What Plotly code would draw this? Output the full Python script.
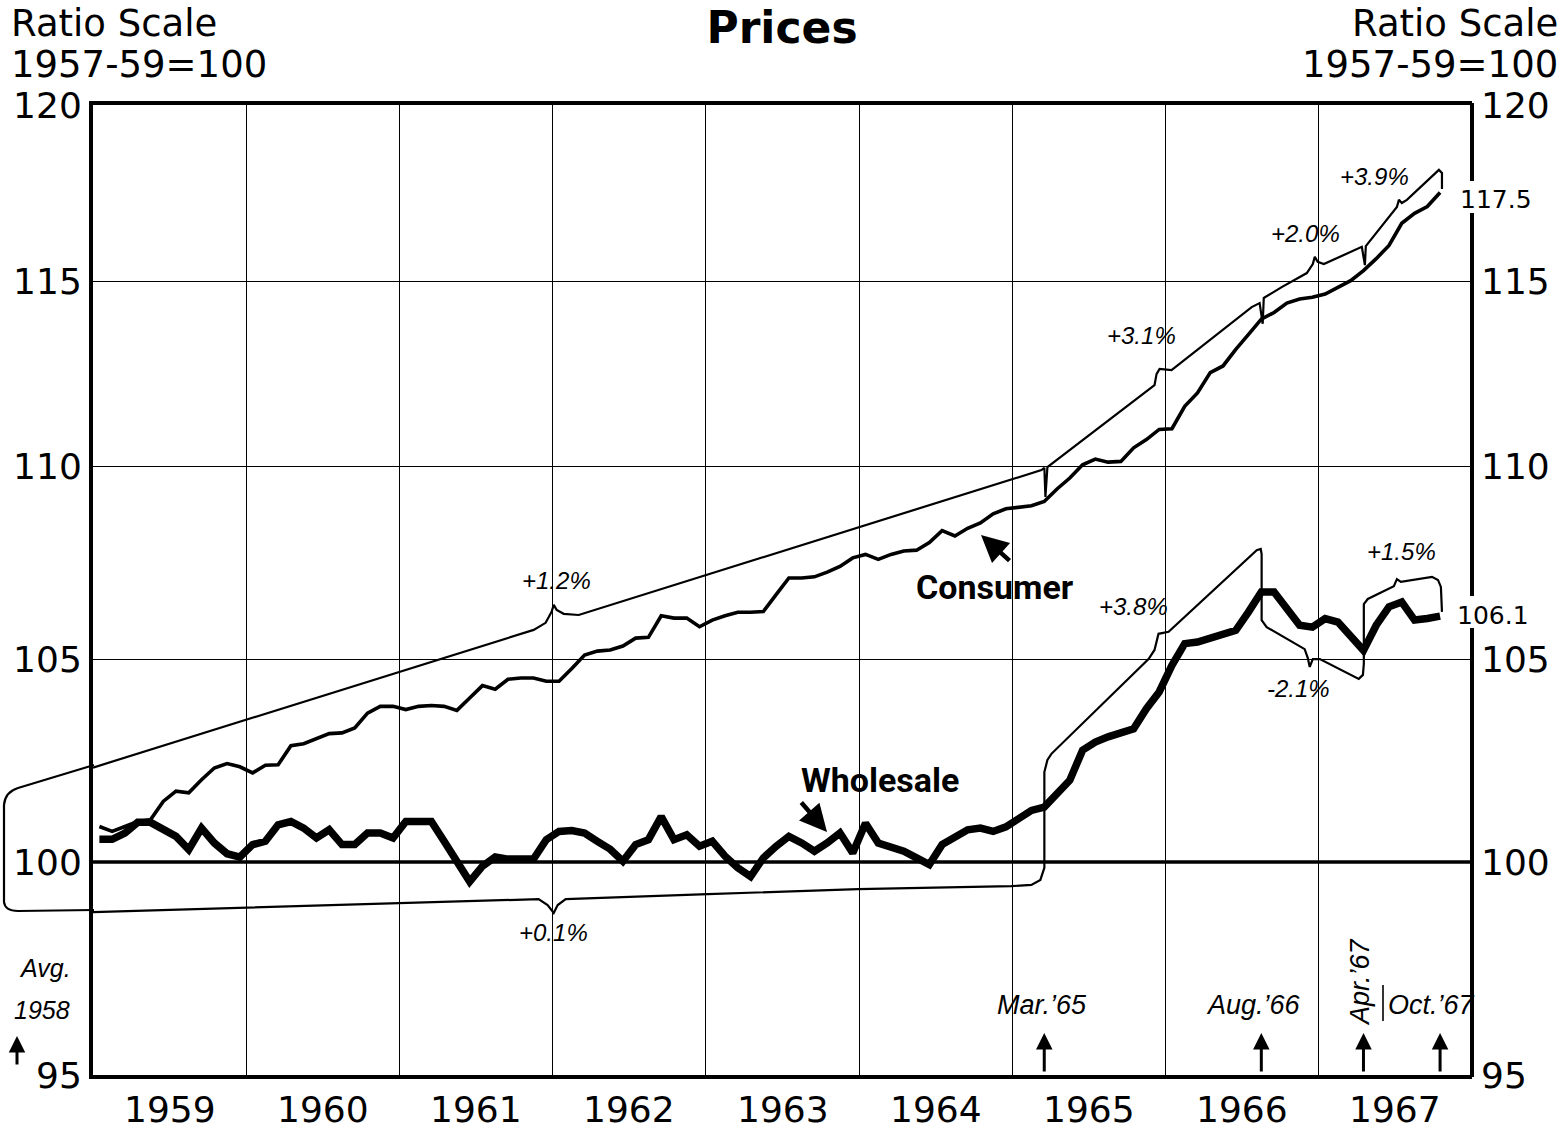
import math
import plotly.graph_objects as go

# ---------------- data ----------------
years = ["1959", "1960", "1961", "1962", "1963", "1964", "1965", "1966", "1967"]
first_year = 1959

# Consumer price index, monthly, 1957-59=100 (Jan 1959 - Oct 1967)
consumer = [
    100.86, 100.74, 100.86, 100.98, 101.02, 101.47, 101.72, 101.68, 102.00, 102.29, 102.40, 102.32,
    102.17, 102.36, 102.37, 102.84, 102.89, 103.01, 103.14, 103.16, 103.28, 103.65, 103.82, 103.82,
    103.74, 103.82, 103.84, 103.82, 103.72, 104.03, 104.34, 104.25, 104.50, 104.53, 104.53, 104.45,
    104.45, 104.77, 105.11, 105.21, 105.24, 105.34, 105.54, 105.56, 106.11, 106.05, 106.05, 105.83,
    106.00, 106.11, 106.20, 106.20, 106.22, 106.65, 107.08, 107.08, 107.11, 107.23, 107.38, 107.60,
    107.69, 107.56, 107.69, 107.78, 107.80, 108.00, 108.31, 108.17, 108.37, 108.51, 108.75, 108.88,
    108.93, 108.96, 109.07, 109.40, 109.69, 110.04, 110.19, 110.11, 110.13, 110.49, 110.71, 110.98,
    111.00, 111.60, 111.96, 112.51, 112.69, 113.14, 113.55, 113.97, 114.15, 114.41, 114.52, 114.57,
    114.66, 114.85, 115.03, 115.31, 115.64, 116.01, 116.63, 116.91, 117.10, 117.50,
]

# Wholesale price index, monthly, 1957-59=100 (Jan 1959 - Oct 1967)
wholesale = [
    100.55, 100.55, 100.70, 100.96, 100.96, 100.78, 100.62, 100.30, 100.82, 100.46, 100.20, 100.12,
    100.42, 100.50, 100.90, 100.98, 100.82, 100.58, 100.78, 100.42, 100.42, 100.70, 100.70, 100.58,
    100.98, 100.98, 100.98, 100.50, 99.98, 99.53, 99.90, 100.12, 100.07, 100.06, 100.07, 100.54,
    100.74, 100.76, 100.70, 100.50, 100.31, 100.02, 100.42, 100.54, 101.10, 100.54, 100.66, 100.38,
    100.50, 100.14, 99.86, 99.65, 100.10, 100.38, 100.62, 100.46, 100.26, 100.46, 100.70, 100.22,
    100.94, 100.46, 100.38, 100.26, 100.10, 99.94, 100.42, 100.62, 100.78, 100.82, 100.74, 100.85,
    101.05, 101.25, 101.33, 101.68, 101.99, 102.73, 102.93, 103.06, 103.14, 103.26, 103.76, 104.18,
    104.85, 105.40, 105.44, 105.53, 105.61, 105.74, 106.21, 106.72, 106.72, 106.29, 105.87, 105.82,
    106.04, 105.95, 105.61, 105.23, 105.87, 106.34, 106.46, 106.00, 106.04, 106.10,
]

baseline = [100, 100]
y_ticks = [95, 100, 105, 110, 115, 120]
end_labels = ["117.5", "106.1"]
consumer_rates = ["+1.2%", "+3.1%", "+2.0%", "+3.9%"]
wholesale_rates = ["+0.1%", "+3.8%", "-2.1%", "+1.5%"]
turning_points = [("Mar.’65", 1965, 3), ("Aug.’66", 1966, 8), ("Apr.’67", 1967, 4), ("Oct.’67", 1967, 10)]

# trend brackets (decimal year, index value) - annotation guides
consumer_bracket_yr = [1959.0, 1961.876, 1961.954, 1961.993, 1962.007, 1962.026, 1962.072, 1962.170,
                       1965.190, 1965.209, 1965.216, 1965.229, 1965.928, 1965.941, 1965.961, 1966.039,
                       1966.562, 1966.614, 1966.634, 1966.641, 1966.758, 1966.922, 1966.961, 1966.974,
                       1966.993, 1967.033, 1967.281, 1967.301, 1967.307, 1967.510, 1967.523, 1967.542,
                       1967.575, 1967.784, 1967.804, 1967.804]
consumer_bracket_val = [102.30, 105.75, 105.93, 106.21, 106.39, 106.26, 106.16, 106.13,
                        109.90, 109.96, 109.19, 109.98, 112.17, 112.47, 112.61, 112.58,
                        114.30, 114.41, 113.84, 114.55, 114.85, 115.24, 115.49, 115.69,
                        115.55, 115.49, 115.97, 115.46, 115.99, 117.09, 117.29, 117.20,
                        117.29, 118.14, 118.05, 117.60]
wholesale_bracket_yr = [1959.0, 1961.007, 1961.908, 1961.967, 1962.007, 1962.033, 1962.085, 1963.013,
                        1963.993, 1964.993, 1965.124, 1965.183, 1965.209, 1965.209, 1965.229, 1965.255,
                        1965.889, 1965.928, 1965.954, 1966.020, 1966.595, 1966.621, 1966.627, 1966.627,
                        1966.660, 1966.908, 1966.928, 1966.941, 1966.961, 1967.007, 1967.261, 1967.288,
                        1967.294, 1967.294, 1967.320, 1967.490, 1967.510, 1967.536, 1967.739, 1967.778,
                        1967.797, 1967.804]
wholesale_bracket_val = [98.80, 99.02, 99.11, 98.97, 98.78, 98.97, 99.11, 99.23,
                         99.35, 99.42, 99.45, 99.57, 99.86, 102.19, 102.49, 102.64,
                         105.01, 105.24, 105.65, 105.70, 107.80, 107.83, 107.70, 106.00,
                         105.82, 105.26, 105.04, 104.81, 105.01, 105.01, 104.51, 104.61,
                         104.89, 106.41, 106.54, 106.87, 107.05, 106.98, 107.11, 107.03,
                         106.85, 106.21]

# ---------------- layout helpers ----------------
W, H = 1564, 1131
L, R, T, B = 93, 1472, 105, 1075


def P(x, y):
    """pixel position -> paper coordinates (for text / decoration placement)"""
    return (x - L) / (R - L), (B - y) / (B - T)


months_x = [first_year + (i + 0.5) / 12 for i in range(len(consumer))]
FONT = "DejaVu Sans"
ITAL = "Liberation Sans, Arial, sans-serif"
COND = "Roboto, Liberation Sans, sans-serif"

fig = go.Figure()
fig.add_trace(go.Scatter(x=consumer_bracket_yr, y=consumer_bracket_val, mode="lines",
                         line=dict(color="black", width=2.2), hoverinfo="skip", showlegend=False))
fig.add_trace(go.Scatter(x=wholesale_bracket_yr, y=wholesale_bracket_val, mode="lines",
                         line=dict(color="black", width=2.2), hoverinfo="skip", showlegend=False))
fig.add_trace(go.Scatter(x=[first_year, first_year + len(years)], y=baseline, mode="lines",
                         line=dict(color="black", width=3.5), yaxis="y2", hoverinfo="skip",
                         showlegend=False))
fig.add_trace(go.Scatter(x=months_x, y=consumer, mode="lines", name="Consumer",
                         line=dict(color="black", width=3.6), showlegend=False))
fig.add_trace(go.Scatter(x=months_x, y=wholesale, mode="lines", name="Wholesale",
                         line=dict(color="black", width=7.5), showlegend=False))

yrange = [math.log10(y_ticks[0]), math.log10(y_ticks[-1])]

annotations = []


def text(t, x, y, size, family=FONT, xanchor="center", italic=False, bold=False, angle=0):
    xp, yp = P(x, y)
    annotations.append(dict(text=t, x=xp, y=yp, xref="paper", yref="paper", showarrow=False,
                            xanchor=xanchor, yanchor="middle", textangle=angle,
                            font=dict(family=family, size=size, color="black",
                                      style="italic" if italic else "normal",
                                      weight="bold" if bold else "normal")))


text("Ratio Scale", 9, 23, 37, xanchor="left")
text("1957-59=100", 9, 65, 37, xanchor="left")
text("Ratio Scale", 1560, 23, 37, xanchor="right")
text("1957-59=100", 1560, 65, 37, xanchor="right")

# year labels centred in each year band
for i, yname in enumerate(years):
    annotations.append(dict(text=yname, x=first_year + i + 0.5, y=P(0, 1109)[1], xref="x",
                            yref="paper", showarrow=False, xanchor="center", yanchor="middle",
                            font=dict(family=FONT, size=36, color="black")))

# rate labels
for t, (x, y) in zip(consumer_rates, [(556, 580), (1141, 335), (1305, 234), (1374, 177)]):
    text(t, x, y, 24, family=ITAL, italic=True)
for t, (x, y) in zip(wholesale_rates, [(553, 932), (1133, 606), (1298, 688), (1401, 551)]):
    text(t, x, y, 24, family=ITAL, italic=True)

text(end_labels[0], 1458, 199, 25, xanchor="left")
text(end_labels[1], 1455, 615, 25, xanchor="left")

text("Avg.", 45, 968, 25, family=ITAL, italic=True)
text("1958", 42, 1010, 25, family=ITAL, italic=True)

text("Consumer", 995, 587, 34, family=COND, bold=True)
text("Wholesale", 880, 780, 34, family=COND, bold=True)

# turning-point labels and arrows
label_pos = [(1042, 1005, 0), (1253, 1005, 0), (1360, 982, -90), (1431, 1005, 0)]
for (t, yr, mo), (lx, ly, ang) in zip(turning_points, label_pos):
    text(t, lx, ly, 27, family=ITAL, italic=True, angle=ang)
    annotations.append(dict(x=yr + (mo - 0.5) / 12, y=P(0, 1033)[1], xref="x", yref="paper",
                            text="", showarrow=True, arrowhead=2, arrowsize=1.1, arrowwidth=3,
                            arrowcolor="black", ax=0, ay=40))

# small arrow under "1958"
xa, ya = P(17, 1036)
annotations.append(dict(x=xa, y=ya, xref="paper", yref="paper", text="", showarrow=True,
                        arrowhead=2, arrowsize=1.1, arrowwidth=3, arrowcolor="black", ax=0, ay=30))
# label arrows
xa, ya = P(981, 535)
annotations.append(dict(x=xa, y=ya, xref="paper", yref="paper", text="", showarrow=True,
                        arrowhead=2, arrowsize=1.2, arrowwidth=4.5, arrowcolor="black", ax=30, ay=27))
xa, ya = P(827, 832)
annotations.append(dict(x=xa, y=ya, xref="paper", yref="paper", text="", showarrow=True,
                        arrowhead=2, arrowsize=1.2, arrowwidth=4.5, arrowcolor="black", ax=-27, ay=-31))

# decorative shapes (paper coords)
shapes = []


def pline(x0, y0, x1, y1, w):
    a, b = P(x0, y0)
    c, d = P(x1, y1)
    shapes.append(dict(type="line", xref="paper", yref="paper", x0=a, y0=b, x1=c, y1=d,
                       line=dict(color="black", width=w)))


# right border with breaks at the end labels
pline(R, T - 2, R, 181, 4)
pline(R, 213, R, 596, 4)
pline(R, 628, R, B + 2, 4)
# separator before Oct.'67
pline(1383, 985, 1383, 1021, 1.6)

# left brace part of brackets (outside plot area)
pts = [P(94, 765), P(18, 788), P(5, 792), P(4, 805), P(4, 902), P(5, 911), P(18, 911), P(94, 910)]
path = ("M {0[0]},{0[1]} L {1[0]},{1[1]} Q {2[0]},{2[1]} {3[0]},{3[1]} L {4[0]},{4[1]} "
        "Q {5[0]},{5[1]} {6[0]},{6[1]} L {7[0]},{7[1]}").format(*pts)
shapes.append(dict(type="path", xref="paper", yref="paper", path=path,
                   line=dict(color="black", width=2.2)))

fig.update_layout(
    width=W, height=H,
    margin=dict(l=L, r=W - R, t=T, b=H - B, pad=0, autoexpand=False),
    paper_bgcolor="white", plot_bgcolor="white",
    title=dict(text="<b>Prices</b>", x=0.5, xanchor="center", y=1 - 28 / H, yanchor="middle",
               font=dict(family=FONT, size=44, color="black")),
    xaxis=dict(range=[first_year, first_year + len(years)], automargin=False,
               showticklabels=False, ticks="", showgrid=True, dtick=1, tick0=first_year,
               gridcolor="black", gridwidth=1.4, zeroline=False,
               showline=True, linecolor="black", linewidth=4, mirror=True),
    yaxis=dict(type="log", range=yrange, tickvals=y_ticks, ticktext=[str(v) for v in y_ticks],
               automargin=False,
               ticks="", showgrid=True, gridcolor="black", gridwidth=1.4, zeroline=False,
               showline=True, linecolor="black", linewidth=4,
               tickfont=dict(family=FONT, size=36, color="black"), ticklabelstandoff=0),
    yaxis2=dict(type="log", range=yrange, overlaying="y", side="right", tickvals=y_ticks,
                automargin=False,
                ticktext=[str(v) for v in y_ticks], ticks="", showgrid=False, zeroline=False,
                showline=False, tickfont=dict(family=FONT, size=36, color="black"),
                ticklabelstandoff=8),
    annotations=annotations,
    shapes=shapes,
    showlegend=False,
)

fig.write_html("out.html", config={"displayModeBar": False},
               post_script="document.body.style.margin='0px';")
